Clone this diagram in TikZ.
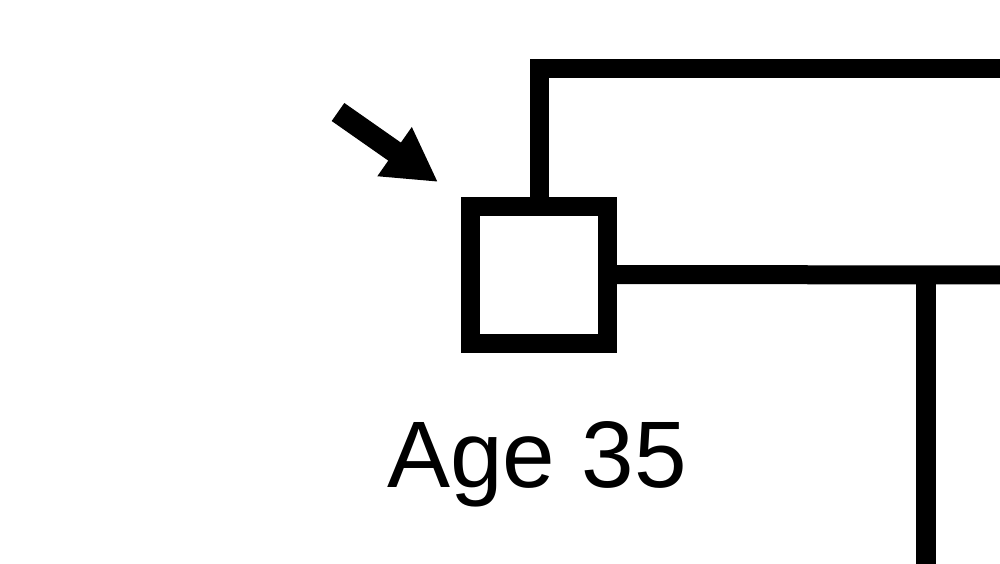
\documentclass[tikz,border=0pt]{standalone}
\usepackage{fontspec}
\setmainfont{Liberation Sans}
\usetikzlibrary{arrows.meta}
\begin{document}
\begin{tikzpicture}[x=1pt,y=-1pt,
  thick line/.style={line width=19pt,line join=miter,draw=black},
  person/.style={draw=black,line width=19pt,minimum size=137pt,inner sep=0pt,outer sep=0pt,fill=white},
  label text/.style={font=\fontsize{94.5}{100}\selectfont,inner sep=0pt,anchor=base}]
\useasboundingbox (0,0) rectangle (1000,563);
\clip (0,0) rectangle (1000,563);
\node[person] (p) at (539,274.5) {};
\coordinate (topcorner) at (539.5,68.8);
\coordinate (topend) at (1020,68.8);
\coordinate (hend) at (1020,275);
\coordinate (drop) at (925.5,275);
\coordinate (dropend) at (925.5,580);
\draw[thick line] (p.north -| topcorner) -- (topcorner) -- (topend);
\draw[thick line] (p.east) -- (hend);
\draw[thick line,line width=20pt] (drop) -- (dropend);
\node[label text] (age) at (537,487.3) {Age 35};
\coordinate (atail) at (338,112);
\coordinate (atip) at (438,182);
\draw[line width=22pt,-{Triangle[length=53pt,width=56pt]}] (atail) -- (atip);
\end{tikzpicture}
\end{document}
